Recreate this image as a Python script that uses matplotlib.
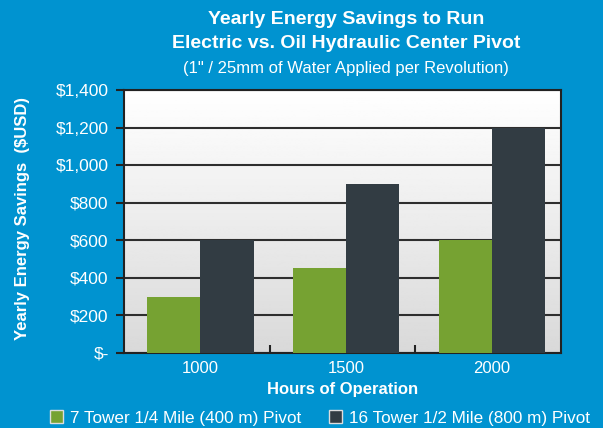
import numpy as np
import matplotlib.pyplot as plt
from matplotlib.patches import Patch

plt.rcParams['font.family'] = ['Liberation Sans', 'DejaVu Sans']

hours = ['1000', '1500', '2000']
small_pivot = [300, 450, 600]
large_pivot = [600, 900, 1200]
yticks = [0, 200, 400, 600, 800, 1000, 1200, 1400]
ytick_labels = ['$-', '$200', '$400', '$600', '$800', '$1,000', '$1,200', '$1,400']
series_names = ['7 Tower 1/4 Mile (400 m) Pivot', '16 Tower 1/2 Mile (800 m) Pivot']

bg = '#0093d0'
green = '#76a232'
dark = '#323c43'

fig = plt.figure(figsize=(6.03, 4.28), dpi=100, facecolor=bg)
ax = fig.add_axes([124 / 603, 1 - 353 / 428, (561 - 124) / 603, (353 - 90) / 428])

# gradient background in the plot area
grad = np.linspace(1.0, 0.85, 256).reshape(-1, 1)
ax.imshow(grad, cmap='gray', vmin=0, vmax=1, aspect='auto',
          extent=[0, 1, 0, 1], transform=ax.transAxes, zorder=0)

x = np.arange(len(hours)) + 0.025
w = 0.365
ax.bar(x - w / 2, small_pivot, w, color=green, zorder=3)
ax.bar(x + w / 2, large_pivot, w, color=dark, zorder=3)

ax.set_xlim(-0.5, 2.5)
ax.set_ylim(0, 1400)
ax.set_yticks(yticks)
ax.set_yticklabels(ytick_labels)
ax.set_xticks(x)
ax.set_xticklabels(hours)
ax.set_xticks([0.5, 1.5], minor=True)
ax.grid(axis='y', color='#2e2e2e', linewidth=1.5, zorder=1)

ax.tick_params(axis='y', colors='#222222', labelcolor='white', labelsize=12.5,
               length=6, width=1.5, direction='out', pad=5)
ax.tick_params(axis='x', which='major', length=0, labelcolor='white', labelsize=12, pad=6)
ax.tick_params(axis='x', which='minor', length=6, width=1.5, direction='in', colors='#222222')
for s in ax.spines.values():
    s.set_color('#222222')
    s.set_linewidth(1.5)

ax.set_xlabel('Hours of Operation', color='white', fontsize=12, fontweight='bold', labelpad=4)
fig.text(23 / 603, 1 - 218 / 428, 'Yearly Energy Savings  ($USD)', color='white',
         fontsize=12, fontweight='bold', rotation=90, ha='center', va='center')

fig.text(346 / 603, 1 - 20 / 428, 'Yearly Energy Savings to Run', color='white',
         fontsize=14, fontweight='bold', ha='center', va='center')
fig.text(346 / 603, 1 - 44 / 428, 'Electric vs. Oil Hydraulic Center Pivot', color='white',
         fontsize=14, fontweight='bold', ha='center', va='center')
fig.text(346 / 603, 1 - 68 / 428, '(1" / 25mm of Water Applied per Revolution)', color='white',
         fontsize=12, ha='center', va='center')

handles = [Patch(facecolor=green, edgecolor='#dddddd', linewidth=1),
           Patch(facecolor=dark, edgecolor='#dddddd', linewidth=1)]
fig.legend(handles, series_names, loc='center', bbox_to_anchor=(320 / 603, 1 - 418 / 428),
           ncol=2, frameon=False, fontsize=12.3, labelcolor='white',
           handlelength=0.8, handleheight=0.8, handletextpad=0.4, columnspacing=1.6)

fig.savefig('out.png', dpi=100, facecolor=bg)
